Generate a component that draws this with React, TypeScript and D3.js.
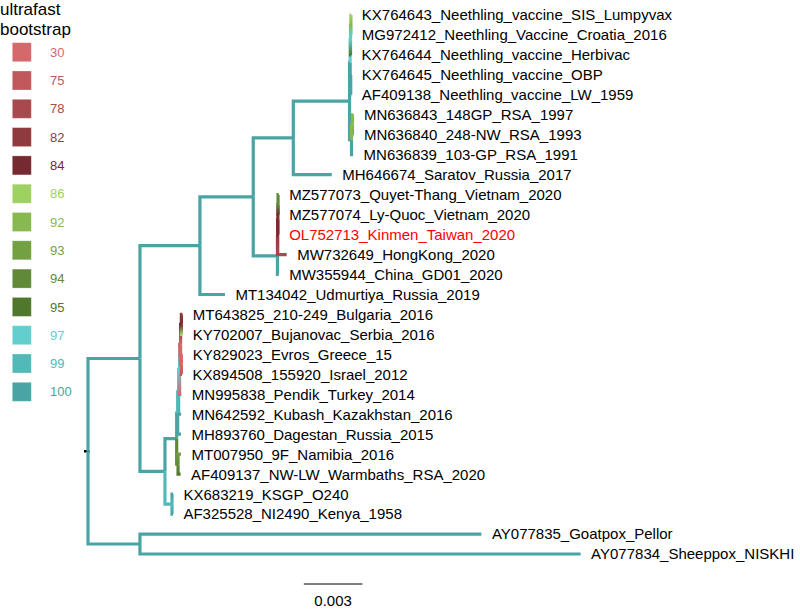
import React from 'react';
import * as d3 from 'd3';

// ---- data ----
const nodeIds = [
  'root', 'L', 'A', 'N253', 'N293', 'N', 'Nv', 'Nv1', 'Nv1a',
  'KX764643_Neethling_vaccine_SIS_Lumpyvax', 'MG972412_Neethling_Vaccine_Croatia_2016',
  'KX764644_Neethling_vaccine_Herbivac', 'Nv2', 'KX764645_Neethling_vaccine_OBP',
  'AF409138_Neethling_vaccine_LW_1959', 'Nm', 'Nm1', 'MN636843_148GP_RSA_1997',
  'MN636840_248-NW_RSA_1993', 'MN636839_103-GP_RSA_1991', 'MH646674_Saratov_Russia_2017',
  'V', 'V1', 'V2', 'V3', 'MZ577073_Quyet-Thang_Vietnam_2020', 'MZ577074_Ly-Quoc_Vietnam_2020',
  'OL752713_Kinmen_Taiwan_2020', 'MW732649_HongKong_2020', 'MW355944_China_GD01_2020',
  'MT134042_Udmurtiya_Russia_2019', 'B', 'B1', 'B1a', 'B1c', 'B1d', 'B1e', 'B1f',
  'MT643825_210-249_Bulgaria_2016', 'KY702007_Bujanovac_Serbia_2016', 'B1g',
  'KY829023_Evros_Greece_15', 'KX894508_155920_Israel_2012', 'MN995838_Pendik_Turkey_2014',
  'MN642592_Kubash_Kazakhstan_2016', 'MH893760_Dagestan_Russia_2015', 'B1b',
  'MT007950_9F_Namibia_2016', 'AF409137_NW-LW_Warmbaths_RSA_2020', 'B2',
  'KX683219_KSGP_O240', 'AF325528_NI2490_Kenya_1958', 'O',
  'AY077835_Goatpox_Pellor', 'AY077834_Sheeppox_NISKHI',
];
const nodeParents = [
  '', 'root', 'L', 'A', 'N253', 'N293', 'N', 'Nv', 'Nv1',
  'Nv1a', 'Nv1a',
  'Nv1', 'Nv', 'Nv2',
  'Nv2', 'N', 'Nm', 'Nm1',
  'Nm1', 'Nm', 'N293',
  'N253', 'V', 'V1', 'V2', 'V3', 'V3',
  'V2', 'V1', 'V',
  'A', 'L', 'B', 'B1', 'B1a', 'B1c', 'B1d', 'B1e',
  'B1f', 'B1f', 'B1e',
  'B1g', 'B1g', 'B1d',
  'B1c', 'B1a', 'B1',
  'B1b', 'B1b', 'B',
  'B2', 'B2', 'root',
  'O', 'O',
];
const branchLengths = [
  0, 0.00266, 0.00307, 0.00273, 0.00205, 0.00288, 0.00003, 0.00002, 0.00002,
  0.00002, 0.00002,
  0.00003, 0.00003, 0.00003,
  0.00003, 0.0001, 0.00005, 0.00005,
  0.00005, 0.00008, 0.00197,
  0.00124, 0.00001, 0.00001, 0.00001, 0.00003, 0.00003,
  0.00004, 0.00046, 0.00006,
  0.00128, 0.00128, 0.0006, 0.00005, 0.00005, 0.00005, 0.00005, 0.00004,
  0.00005, 0.00004, 0.00004,
  0.00004, 0.00003, 0.00009,
  0.00013, 0.00017, 0.00007,
  0.00015, 0.00013, 0.00036,
  0.00005, 0.00005, 0.00266,
  0.01748, 0.02256,
];
const supports = [
  100, 100, 100, 100, 100, 100, 100, 97, 92,
  86, 97,
  95, 100, 100,
  100, 100, 92, 92,
  100, 100, 100,
  100, 82, 84, 94, 94, 84,
  84, 78, 100,
  100, 100, 100, 100, 99, 97, 30, 84,
  82, 86, 30,
  30, 75, 30,
  100, 100, 94,
  93, 95, 99,
  100, 100, 100,
  100, 100,
];
const highlightLabel = 'OL752713_Kinmen_Taiwan_2020';

const supportLevels = [30, 75, 78, 82, 84, 86, 92, 93, 94, 95, 97, 99, 100];
const supportColors = [
  '#d4686b', '#c0585c', '#a84a4d', '#8f3a3e', '#742a30',
  '#9ed062', '#87b950', '#73a041', '#608a37', '#50782d',
  '#64cdcd', '#52b9b9', '#4aa4a4',
];
const legendTitle = ['ultrafast', 'bootstrap'];
const scaleBarValue = 0.003;

const FONT = '"Liberation Sans", Arial, Helvetica, sans-serif';

export default function App() {
  const W = 800;
  const H = 609;

  const rows = nodeIds.map((id, i) => ({
    id,
    parentId: nodeParents[i] || null,
    len: branchLengths[i],
    bs: supports[i],
  }));
  const root: any = d3.stratify<any>().id((d: any) => d.id).parentId((d: any) => d.parentId)(rows);

  root.eachBefore((n: any) => {
    n.dist = n.parent ? n.parent.dist + n.data.len : 0;
  });
  let r = 0;
  root.eachBefore((n: any) => {
    if (!n.children) {
      r += 1;
      n.row = r;
    }
  });
  root.eachAfter((n: any) => {
    if (n.children) n.row = d3.mean(n.children, (c: any) => c.row);
  });
  const nLeaves = r;

  const x = d3.scaleLinear().domain([0, 0.025]).range([88, 88 + 0.025 * 19533]);
  const y = d3.scaleLinear().domain([1, nLeaves]).range([15, 554]);
  const color = d3.scaleOrdinal<number, string>().domain(supportLevels).range(supportColors);

  const edges = root.descendants().filter((n: any) => n.parent);
  const ordered = [...edges].sort((a: any, b: any) => (a.data.bs === 100 ? 0 : 1) - (b.data.bs === 100 ? 0 : 1));
  const leaves = root.leaves();

  const lw = 3.2;
  const labelOffset = 10.5;

  const legendY = d3.scaleLinear().domain([0, 1]).range([52.2, 80.5]);

  const sbStart = 303.8;
  const sbLen = x(scaleBarValue) - x(0);
  const gid = (n: any) => `eg${n.id.replace(/[^A-Za-z0-9]/g, '_')}`;

  return (
    <svg width={W} height={H} style={{ position: 'absolute', left: 0, top: 0, background: '#fff' }} fontFamily={FONT}>
      <rect width={W} height={H} fill="#fff" />
      <defs>
        {edges.map((n: any, i: number) => {
          const pc = color(n.parent.data.bs);
          const cc = color(n.data.bs);
          return (
            <linearGradient key={i} id={gid(n)} gradientUnits="userSpaceOnUse"
              x1={x(n.parent.dist)} x2={x(n.parent.dist)} y1={y(n.parent.row)} y2={y(n.row)}>
              <stop offset="0" stopColor={n.parent.data.bs === 100 ? cc : pc} />
              <stop offset="1" stopColor={cc} />
            </linearGradient>
          );
        })}
      </defs>
      {/* root edge */}
      <line x1={x(0) - 4} x2={x(0) + 1.5} y1={y(root.row)} y2={y(root.row)} stroke="#000" strokeWidth={2.5} />
      {ordered.map((n: any, i: number) => {
        const px = x(n.parent.dist);
        const py = y(n.parent.row);
        const cx = x(n.dist);
        const cy = y(n.row);
        return (
          <path key={i} d={`M${px},${py}V${cy}H${cx}`} fill="none"
            stroke={`url(#${gid(n)})`} strokeWidth={lw}
            strokeLinejoin="miter" strokeLinecap="butt" />
        );
      })}
      {leaves.map((n: any, i: number) => (
        <text key={i} x={x(n.dist) + labelOffset} y={y(n.row)} dy="0.36em" fontSize={15}
          fill={n.id === highlightLabel ? '#ff0000' : '#000'}>{n.id}</text>
      ))}
      {/* scale bar */}
      <line x1={sbStart} x2={sbStart + sbLen} y1={584} y2={584} stroke="#000" strokeWidth={1} />
      <text x={sbStart + sbLen / 2} y={606} fontSize={15} textAnchor="middle" fill="#000">{scaleBarValue}</text>
      {/* legend */}
      <text x={0} y={14.5} fontSize={17} fill="#000">{legendTitle[0]}</text>
      <text x={0} y={34.5} fontSize={17} fill="#000">{legendTitle[1]}</text>
      {supportLevels.map((s, i) => {
        const cy = legendY(i);
        return (
          <g key={s}>
            <rect x={12.3} y={cy - 9.5} width={19} height={19} fill={color(s)} stroke="#ffffff" strokeOpacity={0.35} strokeWidth={0.8} />
            <text x={50} y={cy} dy="0.36em" fontSize={13} fill={color(s)}>{s}</text>
          </g>
        );
      })}
    </svg>
  );
}
